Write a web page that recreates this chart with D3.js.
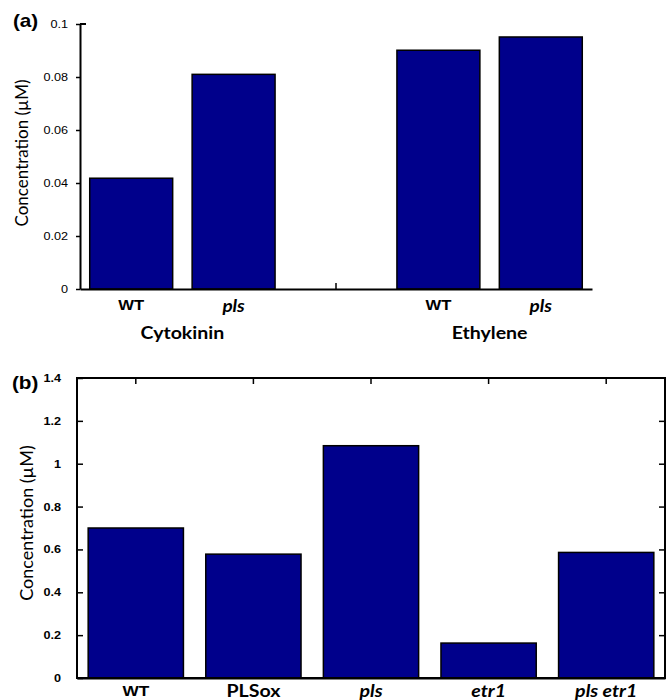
<!DOCTYPE html>
<html>
<head>
<meta charset="utf-8">
<script src="https://cdn.jsdelivr.net/npm/d3@7"></script>
<style>
  body { margin: 0; background: #ffffff; }
</style>
</head>
<body>
<div id="container"></div>
<script>
let w = 671;
let h = 700;

// panel (a): cytokinin and ethylene, WT vs pls
let hormones = ["Cytokinin", "Ethylene"];
let genotypesA = ["WT", "pls"];
let cytokininValues = [0.0418, 0.081];
let ethyleneValues = [0.0901, 0.0951];
let ticksA = [0, 0.02, 0.04, 0.06, 0.08, 0.1];

// panel (b): ethylene in five lines
let genotypesB = ["WT", "PLSox", "pls", "etr1", "pls etr1"];
let italicB = ["pls", "etr1", "pls etr1"];
let valuesB = [0.70, 0.578, 1.084, 0.163, 0.586];
let ticksB = [0, 0.2, 0.4, 0.6, 0.8, 1, 1.2, 1.4];

let barColor = "#00008b";
let arial = "'Liberation Sans', Arial, sans-serif";
let calibri = "Lato, 'Open Sans', sans-serif";
// the original picture is a bit wider than tall, so text gets stretched too
let sx = 1.15;

function stretch(sel){
  sel.each(function(){
    let t = d3.select(this);
    let x = +t.attr("x") || 0;
    t.attr("x", x / sx).attr("transform", "scale(" + sx + ",1)");
  });
}

let viz = d3.select("#container")
  .append("svg")
    .attr("width", w)
    .attr("height", h)
    .style("background-color", "white");

// ---------- panel (a) ----------
let valuesByHormone = { "Cytokinin": cytokininValues, "Ethylene": ethyleneValues };
let slotsA = [];
let barsA = [];
hormones.forEach(function(hm, i){
  if(i > 0){ slotsA.push("gap"); }
  genotypesA.forEach(function(g, j){
    slotsA.push(hm + "|" + g);
    barsA.push({ slot: hm + "|" + g, hormone: hm, name: g, value: valuesByHormone[hm][j] });
  });
});

let xA = d3.scaleBand().domain(slotsA).range([80, 592]).paddingInner(0.19).paddingOuter(0.095);
let yA = d3.scaleLinear().domain([0, 0.1]).range([289, 24]);

let gA = viz.append("g").attr("class", "panelA");

gA.selectAll(".bar").data(barsA).enter()
  .append("rect")
    .attr("class", "bar")
    .attr("x", function(d){ return xA(d.slot); })
    .attr("y", function(d){ return yA(d.value); })
    .attr("width", xA.bandwidth())
    .attr("height", function(d){ return yA(0) - yA(d.value); })
    .attr("fill", barColor)
    .attr("stroke", "#000")
    .attr("stroke-width", 1.5);

let yAxisA = d3.axisLeft(yA)
  .tickValues(ticksA)
  .tickSizeInner(4)
  .tickSizeOuter(0)
  .tickPadding(8)
  .tickFormat(function(d){ return d === 0 ? "0" : d3.format(".2~f")(d); });
let yAxisAGroup = gA.append("g").attr("transform", "translate(80,0)").call(yAxisA);
yAxisAGroup.select(".domain").attr("stroke-width", 2);
yAxisAGroup.selectAll("line").attr("stroke-width", 1.5);
yAxisAGroup.selectAll("text").attr("font-family", arial).attr("font-size", 11).attr("fill", "#000");
stretch(yAxisAGroup.selectAll("text"));

// little inward tick at the top of the axis
gA.append("line")
  .attr("x1", 80).attr("x2", 86)
  .attr("y1", yA(0.1)).attr("y2", yA(0.1))
  .attr("stroke", "#000").attr("stroke-width", 2);

let xAxisA = d3.axisBottom(xA)
  .tickSize(0)
  .tickSizeOuter(0)
  .tickPadding(11)
  .tickFormat(function(d){ return d === "gap" ? "" : d.split("|")[1]; });
let xAxisAGroup = gA.append("g").attr("transform", "translate(0," + yA(0) + ")").call(xAxisA);
xAxisAGroup.select(".domain").attr("stroke-width", 2);
xAxisAGroup.selectAll("text")
  .attr("fill", "#000")
  .attr("font-weight", "bold")
  .attr("font-family", function(d){ return d.split("|")[1] === "WT" ? arial : calibri; })
  .attr("font-style", function(d){ return d.split("|")[1] === "pls" ? "italic" : "normal"; })
  .attr("font-size", function(d){ return d.split("|")[1] === "WT" ? 14.5 : 16.5; });
stretch(xAxisAGroup.selectAll("text"));

// separator tick between the two groups
gA.append("line")
  .attr("x1", xA("gap") + xA.bandwidth() / 2).attr("x2", xA("gap") + xA.bandwidth() / 2)
  .attr("y1", yA(0)).attr("y2", yA(0) - 6)
  .attr("stroke", "#000").attr("stroke-width", 1.5);

// group names
gA.selectAll(".group").data(hormones).enter()
  .append("text")
    .attr("class", "group")
    .attr("x", function(d){
      let first = xA(d + "|" + genotypesA[0]);
      let last = xA(d + "|" + genotypesA[genotypesA.length - 1]) + xA.bandwidth();
      return (first + last) / 2;
    })
    .attr("y", 339)
    .attr("text-anchor", "middle")
    .attr("font-family", calibri)
    .attr("font-weight", "bold")
    .attr("font-size", 17)
    .text(function(d){ return d; })
    .call(stretch);

gA.append("text")
  .attr("transform", "translate(22,153) rotate(-90)")
  .attr("text-anchor", "middle")
  .attr("dy", "0.35em")
  .attr("font-family", calibri)
  .attr("font-size", 17)
  .text("Concentration (\u00b5M)");

gA.append("text")
  .attr("x", 13).attr("y", 27)
  .attr("font-family", arial)
  .attr("font-weight", "bold")
  .attr("font-size", 18)
  .text("(a)")
  .call(stretch);

// ---------- panel (b) ----------
let xB = d3.scaleBand().domain(genotypesB).range([77, 665]).paddingInner(0.19).paddingOuter(0.095);
let yB = d3.scaleLinear().domain([0, 1.4]).range([678, 378]);

let gB = viz.append("g").attr("class", "panelB");

gB.selectAll(".bar").data(genotypesB).enter()
  .append("rect")
    .attr("class", "bar")
    .attr("x", function(d){ return xB(d); })
    .attr("y", function(d, i){ return yB(valuesB[i]); })
    .attr("width", xB.bandwidth())
    .attr("height", function(d, i){ return yB(0) - yB(valuesB[i]); })
    .attr("fill", barColor)
    .attr("stroke", "#000")
    .attr("stroke-width", 1.5);

gB.append("rect")
  .attr("x", xB.range()[0]).attr("y", yB.range()[1])
  .attr("width", xB.range()[1] - xB.range()[0])
  .attr("height", yB.range()[0] - yB.range()[1])
  .attr("fill", "none")
  .attr("stroke", "#000")
  .attr("stroke-width", 2);

let yAxisB = d3.axisLeft(yB)
  .tickValues(ticksB)
  .tickSizeInner(-6)
  .tickSizeOuter(0)
  .tickPadding(16)
  .tickFormat(function(d){ return d3.format("~g")(d); });
let yAxisBGroup = gB.append("g").attr("transform", "translate(" + xB.range()[0] + ",0)").call(yAxisB);
yAxisBGroup.select(".domain").remove();
yAxisBGroup.selectAll("line").attr("stroke-width", 1.5);
yAxisBGroup.selectAll("text")
  .attr("font-family", arial).attr("font-weight", "bold")
  .attr("font-size", 11).attr("fill", "#000");
stretch(yAxisBGroup.selectAll("text"));

let rightAxisB = d3.axisRight(yB).tickValues(ticksB.slice(1, -1)).tickSizeInner(-6).tickSizeOuter(0).tickFormat("");
let rightGroup = gB.append("g").attr("transform", "translate(" + xB.range()[1] + ",0)").call(rightAxisB);
rightGroup.select(".domain").remove();
rightGroup.selectAll("line").attr("stroke-width", 1.5);

let topAxisB = d3.axisTop(xB).tickSizeInner(-6).tickSizeOuter(0).tickFormat("");
let topGroup = gB.append("g").attr("transform", "translate(0," + yB.range()[1] + ")").call(topAxisB);
topGroup.select(".domain").remove();
topGroup.selectAll("line").attr("stroke-width", 1.5);

let xAxisB = d3.axisBottom(xB).tickSize(0).tickSizeOuter(0).tickPadding(7);
let xAxisBGroup = gB.append("g").attr("transform", "translate(0," + yB(0) + ")").call(xAxisB);
xAxisBGroup.select(".domain").attr("stroke-width", 2);
xAxisBGroup.selectAll("text")
  .attr("fill", "#000")
  .attr("font-weight", "bold")
  .attr("font-family", function(d){ return d === "WT" ? arial : calibri; })
  .attr("font-style", function(d){ return italicB.indexOf(d) >= 0 ? "italic" : "normal"; })
  .attr("font-size", function(d){ return d === "WT" ? 15 : 17; });
stretch(xAxisBGroup.selectAll("text"));

gB.append("text")
  .attr("transform", "translate(27,523) rotate(-90)")
  .attr("text-anchor", "middle")
  .attr("dy", "0.35em")
  .attr("font-family", calibri)
  .attr("font-size", 18)
  .text("Concentration (\u00b5M)");

gB.append("text")
  .attr("x", 12).attr("y", 389)
  .attr("font-family", arial)
  .attr("font-weight", "bold")
  .attr("font-size", 18)
  .text("(b)")
  .call(stretch);
</script>
</body>
</html>
